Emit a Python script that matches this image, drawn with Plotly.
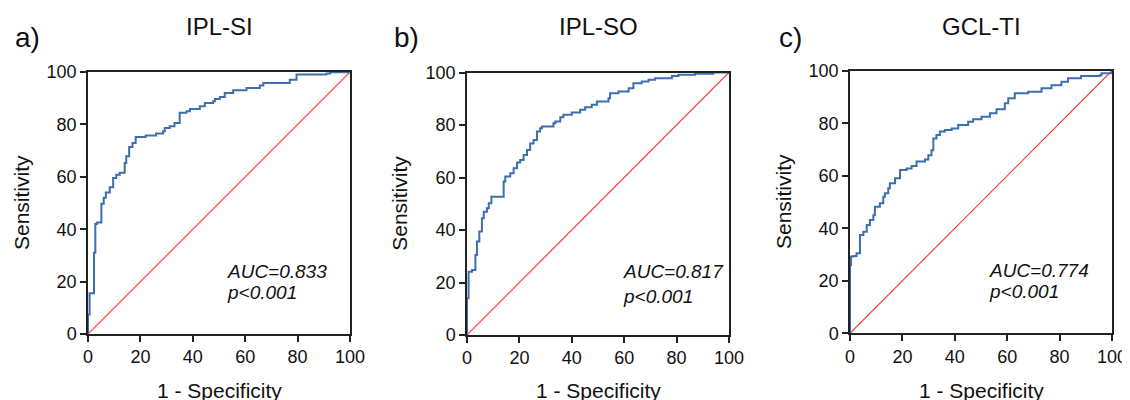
import plotly.graph_objects as go

# ---- data (percent) ----
fpr_a = [0, 0, 0.6, 2.3, 2.8, 3.4, 5.1, 5.1, 6, 6.8, 8.3, 9.6, 10.8, 12.1, 14, 14.6, 15.7, 17, 18.2,
         22, 26, 28.7, 29.3, 31.2, 33, 35, 37.6, 38.9, 42.7, 44.6, 47.8, 48.4, 50.3, 52.2, 55.4,
         60.5, 65.6, 66.9, 77, 79.6, 91, 92.4, 100]
tpr_a = [0, 7.4, 15.6, 31, 42, 42.6, 44.3, 49.7, 52, 54, 56, 59.5, 60.8, 61.5, 65.3, 67.8, 71.4, 72.9, 75.2,
         75.8, 76.5, 77.4, 78.6, 79.3, 80.5, 84.4, 85, 85.9, 86.9, 88.2, 88.8, 89.7, 90.5, 92, 93,
         93.9, 94.8, 95.8, 97, 99, 99.4, 99.9, 100]

fpr_b = [0, 0, 0.6, 1.9, 3.2, 3.8, 4.7, 5.7, 6.4, 7.6, 8.3, 9.3, 14, 14.6, 16.5, 17.8, 19.1, 20.3, 21.6,
         22.9, 24.1, 25.4, 26.7, 27.9, 28.6, 33, 33.7, 35.6, 36.8, 40, 43.2, 45.1, 47.6, 49.6, 54,
         54.6, 57.8, 61.7, 63.5, 66.7, 69.3, 71.8, 78.2, 80.7, 87, 94, 100]
tpr_b = [0, 14, 24.1, 24.8, 30.5, 35.6, 39.4, 44.5, 47, 48.3, 50.2, 52.7, 58.5, 60.4, 61.6, 63.5, 65.7, 66.7, 68.6,
         70.5, 73, 74.3, 77.5, 78.8, 79.4, 80.7, 81.3, 83, 83.9, 84.8, 85.8, 86.8, 87.7, 89, 90.2,
         92.1, 92.8, 94, 95.9, 96.6, 97.2, 97.8, 98.7, 99.1, 99.5, 100, 100]

fpr_c = [0, 0, 0.4, 1.3, 2.5, 3.8, 5.1, 6.4, 7.6, 8.9, 9.5, 11.4, 12.7, 13.3, 14.6, 15.2, 17.2, 19.1,
         21.6, 23.5, 25.4, 28.6, 29.9, 31.1, 31.8, 33, 34.3, 36.2, 38.8, 41.3, 45.1, 47, 50.2, 53.4,
         55.9, 59.1, 60.4, 62.9, 68, 73.1, 76.9, 80.7, 83.2, 88.2, 95.3, 96, 100]
tpr_c = [0, 26, 29.2, 29.4, 30.5, 37.4, 38.7, 41.2, 43.1, 45, 48.2, 49.5, 52, 53.3, 55.2, 57.1, 59, 62.2,
         62.8, 63.7, 65.4, 66.2, 67.8, 69.7, 74.2, 75.5, 76.8, 77.4, 78, 79.3, 80.6, 81.5, 82.5, 83.8,
         85.3, 87.6, 89.5, 91.4, 92, 93.3, 94.5, 95.8, 97.1, 98, 98.3, 99, 100]

chance = [0, 100]
panel_labels = ["a)", "b)", "c)"]
titles = ["IPL-SI", "IPL-SO", "GCL-TI"]
auc_texts = ["AUC=0.833", "AUC=0.817", "AUC=0.774"]
p_texts = ["p<0.001", "p<0.001", "p<0.001"]
tick_vals = [0, 20, 40, 60, 80, 100]

FONT = "Liberation Sans, Arial, Helvetica, sans-serif"
BLUE = "#3d6fae"
RED = "#ff3030"

W, H = 1130, 400
OFF = 8  # page body margin shifts the figure by this many pixels
# pixel boxes of each plot area on screen: (left, right, top, bottom)
boxes = [(88, 350, 72, 334), (467, 729, 72.5, 335), (850, 1112, 70.7, 333.3)]
label_x = [13, 392, 777]
auc_x = [52.3, 58.8, 52.3]
auc_y = [24, 24.2, 24]
p_y = [16, 14.8, 16]


def px(x):
    return (x - OFF) / W


def py(y):
    return (H - (y - OFF)) / H


fig = go.Figure()
series = [(fpr_a, tpr_a), (fpr_b, tpr_b), (fpr_c, tpr_c)]

annotations = []
for i, (fx, ty) in enumerate(series):
    xa = "x" if i == 0 else f"x{i+1}"
    ya = "y" if i == 0 else f"y{i+1}"
    fig.add_trace(go.Scatter(x=chance, y=chance, mode="lines", xaxis=xa, yaxis=ya,
                             line=dict(color=RED, width=1.1), showlegend=False,
                             hoverinfo="skip"))
    fig.add_trace(go.Scatter(x=fx, y=ty, mode="lines", xaxis=xa, yaxis=ya,
                             line=dict(color=BLUE, width=2, shape="hv"), showlegend=False,
                             cliponaxis=False))
    l, r, t, b = boxes[i]
    axis_common = dict(range=[0, 100], tickvals=tick_vals, ticks="outside", ticklen=6,
                       tickwidth=1.5, tickcolor="#222", showline=True, linecolor="#222",
                       linewidth=1.5, mirror=True, showgrid=False, zeroline=False,
                       automargin=False,
                       tickfont=dict(family=FONT, size=18, color="#111"), fixedrange=True)
    xkey = "xaxis" if i == 0 else f"xaxis{i+1}"
    ykey = "yaxis" if i == 0 else f"yaxis{i+1}"
    fig.layout[xkey] = dict(domain=[px(l), px(r)], anchor=ya, **axis_common)
    fig.layout[ykey] = dict(domain=[py(b), py(t)], anchor=xa, **axis_common)

    cx = px((l + r) / 2)
    # title
    annotations.append(dict(text=titles[i], x=cx, y=py(27), xref="paper", yref="paper",
                            xanchor="center", yanchor="middle", showarrow=False,
                            font=dict(family=FONT, size=24, color="#111")))
    # panel label
    annotations.append(dict(text=panel_labels[i], x=px(label_x[i]), y=py(38), xref="paper",
                            yref="paper", xanchor="left", yanchor="middle", showarrow=False,
                            font=dict(family=FONT, size=28, color="#111")))
    # x title
    annotations.append(dict(text="1 - Specificity", x=cx, y=py(390), xref="paper",
                            yref="paper", xanchor="center", yanchor="middle", showarrow=False,
                            font=dict(family=FONT, size=21, color="#111")))
    # y title
    annotations.append(dict(text="Sensitivity", x=px(l - 67), y=py((t + b) / 2),
                            xref="paper", yref="paper", xanchor="center", yanchor="middle",
                            textangle=-90, showarrow=False,
                            font=dict(family=FONT, size=21, color="#111")))
    # AUC / p
    annotations.append(dict(text="<i>" + auc_texts[i] + "</i>", x=auc_x[i], y=auc_y[i],
                            xref=xa, yref=ya, xanchor="left", yanchor="middle", showarrow=False,
                            font=dict(family=FONT, size=19, color="#111")))
    annotations.append(dict(text="<i>" + p_texts[i] + "</i>", x=auc_x[i], y=p_y[i],
                            xref=xa, yref=ya, xanchor="left", yanchor="middle", showarrow=False,
                            font=dict(family=FONT, size=19, color="#111")))

fig.update_layout(width=W, height=H, margin=dict(l=0, r=0, t=0, b=0, autoexpand=False),
                  paper_bgcolor="white", plot_bgcolor="white", annotations=annotations,
                  font=dict(family=FONT), template="none")
fig.write_html("out.html", config={"displayModeBar": False})
